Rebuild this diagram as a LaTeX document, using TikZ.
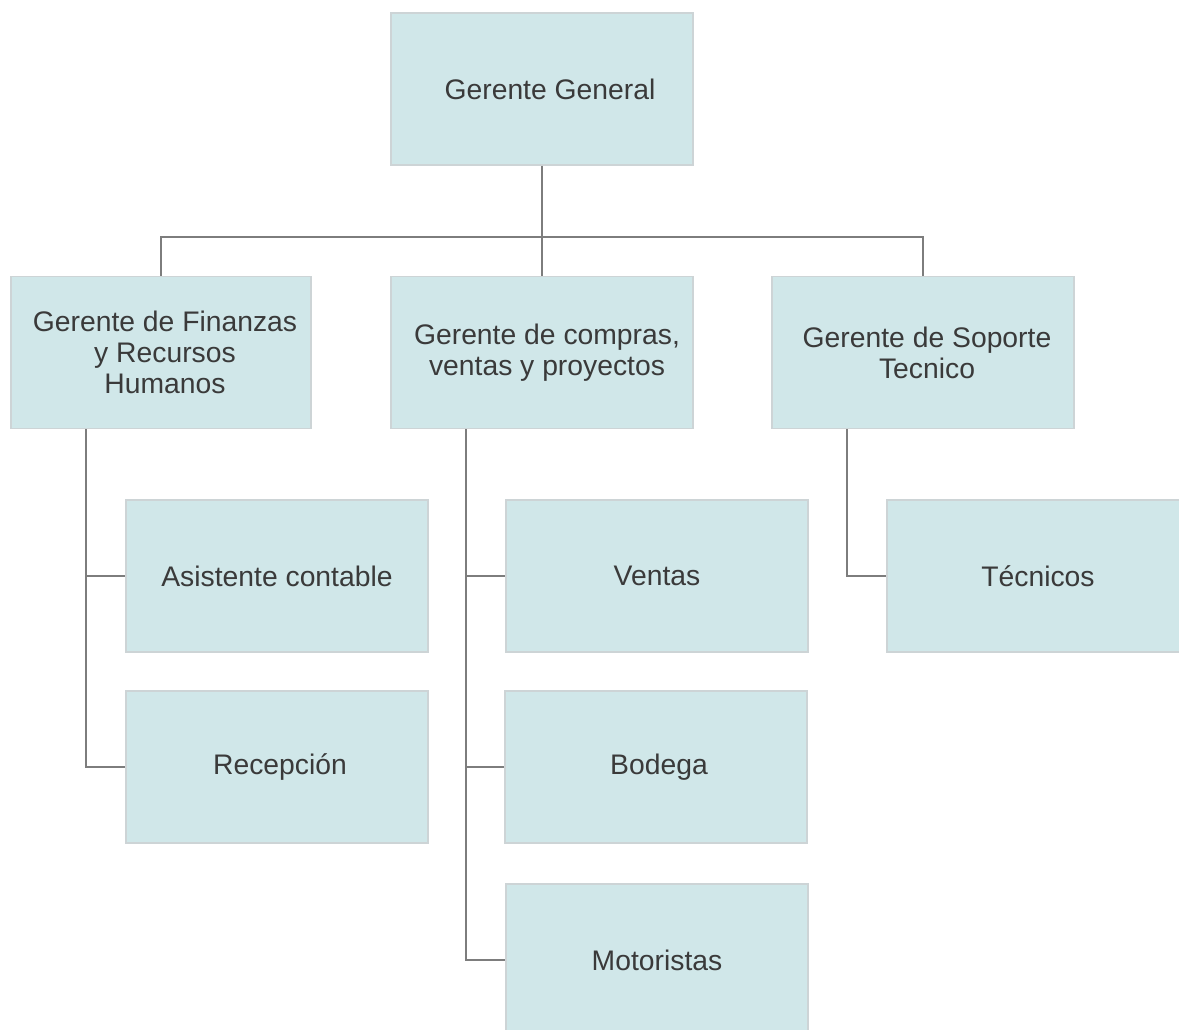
\documentclass[tikz,border=0pt]{standalone}
\usepackage{fontspec}
\setmainfont{Liberation Sans}
\usetikzlibrary{calc}
\definecolor{boxfill}{RGB}{208,231,233}
\definecolor{boxline}{RGB}{205,212,214}
\definecolor{connc}{RGB}{125,125,125}
\definecolor{txt}{RGB}{58,58,58}
\begin{document}
\begin{tikzpicture}[x=1pt,y=-1pt,
  box/.style={draw=boxline, line width=1.2pt, fill=boxfill, minimum width=302pt, minimum height=152pt, inner sep=0pt, align=center, text=txt, font=\fontsize{28.3pt}{31pt}\selectfont},
  connline/.style={draw=connc, line width=2.2pt}]
\useasboundingbox (0,0) rectangle (1179,1030);
\clip (0,0) rectangle (1179,1030);
% level 1
\node[box] (gg) at (542,89) {\hspace*{16pt}Gerente General};
% level 2
\node[box, minimum width=300pt] (fin) at (161,352.5) {\hspace*{8pt}Gerente de Finanzas\\\hspace*{8pt}y Recursos\\\hspace*{8pt}Humanos};
\node[box] (comp) at (542,352.5) {\hspace*{10pt}Gerente de compras,\\\hspace*{10pt}ventas y proyectos};
\node[box] (sop) at (923,352.5) {\hspace*{8pt}Gerente de Soporte\\\hspace*{8pt}Tecnico};
% level 3
\node[box] (asis) at (277,576) {Asistente contable};
\node[box] (rec) at (277,767) {\hspace*{6pt}Recepción};
\node[box] (ven) at (657,576) {Ventas};
\node[box] (bod) at (656,767) {\hspace*{6pt}Bodega};
\node[box] (mot) at (657,960) {Motoristas};
\node[box] (tec) at (1038,576) {Técnicos};
% connectors
\coordinate (bus) at (542,237);
\draw[connline] (gg.south) -- (comp.north);
\draw[connline] (fin.north) |- (sop.north |- bus) -- (sop.north);
\coordinate (fl) at ($(fin.south west)!0.25!(fin.south east)$);
\coordinate (cl) at ($(comp.south west)!0.25!(comp.south east)$);
\coordinate (sl) at ($(sop.south west)!0.25!(sop.south east)$);
\draw[connline] (fl) |- (rec.west);
\draw[connline] (fl |- asis.west) -- (asis.west);
\draw[connline] (cl) |- (mot.west);
\draw[connline] (cl |- ven.west) -- (ven.west);
\draw[connline] (cl |- bod.west) -- (bod.west);
\draw[connline] (sl) |- (tec.west);
\end{tikzpicture}
\end{document}
